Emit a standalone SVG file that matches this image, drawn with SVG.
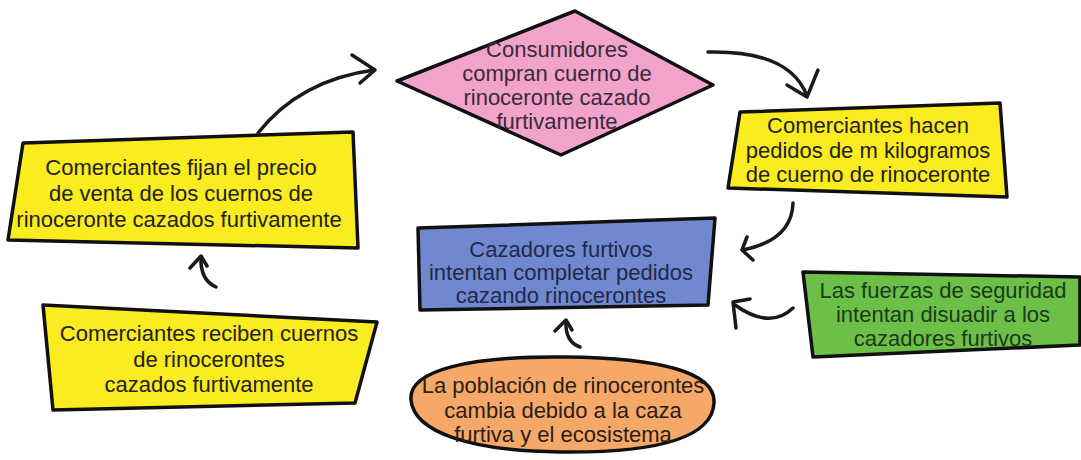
<svg xmlns="http://www.w3.org/2000/svg" width="1081" height="460" viewBox="0 0 1081 460">
<style>
.box{stroke:#111;stroke-width:3.5;stroke-linejoin:round}
.t{font-family:"Liberation Sans",Arial,sans-serif;font-size:22px;text-anchor:middle}
.arr{fill:none;stroke:#1a1a1a;stroke-width:3.5;stroke-linecap:round;stroke-linejoin:round}
</style>
<rect width="1081" height="460" fill="#fff"/>
<g id="consumidores">
<polygon class="box" points="397,81 575,11 713,85 561,155" fill="#f2a3cc"/>
<text class="t" fill="#3a2a3a"><tspan x="557" y="57">Consumidores</tspan><tspan x="557" y="81">compran cuerno de</tspan><tspan x="557" y="105">rinoceronte cazado</tspan><tspan x="557" y="129">furtivamente</tspan></text>
</g>
<g id="fijan">
<polygon class="box" points="23,143 353,132 358,248 8,240" fill="#fbec1f"/>
<text class="t" fill="#222"><tspan x="181" y="175">Comerciantes fijan el precio</tspan><tspan x="181" y="201">de venta de los cuernos de</tspan><tspan x="179" y="227">rinoceronte cazados furtivamente</tspan></text>
</g>
<g id="hacen">
<polygon class="box" points="740,112 1000,103 1007,197 728,188" fill="#fbec1f"/>
<text class="t" fill="#222"><tspan x="868" y="133">Comerciantes hacen</tspan><tspan x="868" y="158">pedidos de m kilogramos</tspan><tspan x="868" y="182">de cuerno de rinoceronte</tspan></text>
</g>
<g id="cazadores">
<polygon class="box" points="418,228 715,218 708,305 420,310" fill="#7088cf"/>
<text class="t" fill="#22284a"><tspan x="561" y="257">Cazadores furtivos</tspan><tspan x="561" y="280">intentan completar pedidos</tspan><tspan x="561" y="303">cazando rinocerontes</tspan></text>
</g>
<g id="reciben">
<polygon class="box" points="43,305 377,322 355,403 53,410" fill="#fbec1f"/>
<text class="t" fill="#222"><tspan x="209" y="341">Comerciantes reciben cuernos</tspan><tspan x="209" y="367">de rinocerontes</tspan><tspan x="209" y="392">cazados furtivamente</tspan></text>
</g>
<g id="poblacion">
<path class="box" d="M411,400 C408,370 470,356 565,357 C660,358 716,372 714,403 C712,440 650,453 560,452 C470,451 414,432 411,400 Z" fill="#f5a868"/>
<text class="t" fill="#2a2018"><tspan x="563" y="393">La población de rinocerontes</tspan><tspan x="563" y="418">cambia debido a la caza</tspan><tspan x="563" y="442">furtiva y el ecosistema</tspan></text>
</g>
<g id="fuerzas">
<polygon class="box" points="803,272 1080,277 1080,345 813,357" fill="#6cbf47"/>
<text class="t" fill="#1c3a1c"><tspan x="943" y="298">Las fuerzas de seguridad</tspan><tspan x="943" y="322">intentan disuadir a los</tspan><tspan x="943" y="346">cazadores furtivos</tspan></text>
</g>
<g id="connectors">
<path class="arr" d="M258,133 Q300,80 374,70"/>
<path class="arr" d="M352,55 L375,70 L360,83"/>
<path class="arr" d="M708,52 Q790,50 807,96"/>
<path class="arr" d="M787,85 L807,97 L818,70"/>
<path class="arr" d="M793,203 Q792,240 743,250"/>
<path class="arr" d="M747,237 L742,250 L753,260"/>
<path class="arr" d="M216,287 Q200,280 201,257"/>
<path class="arr" d="M190,268 L201,256 L207,266"/>
<path class="arr" d="M580,347 Q565,342 566,321"/>
<path class="arr" d="M555,331 L566,320 L572,330"/>
<path class="arr" d="M793,308 Q770,330 735,305"/>
<path class="arr" d="M750,299 L733,302 L736,328"/>
</g>
</svg>
